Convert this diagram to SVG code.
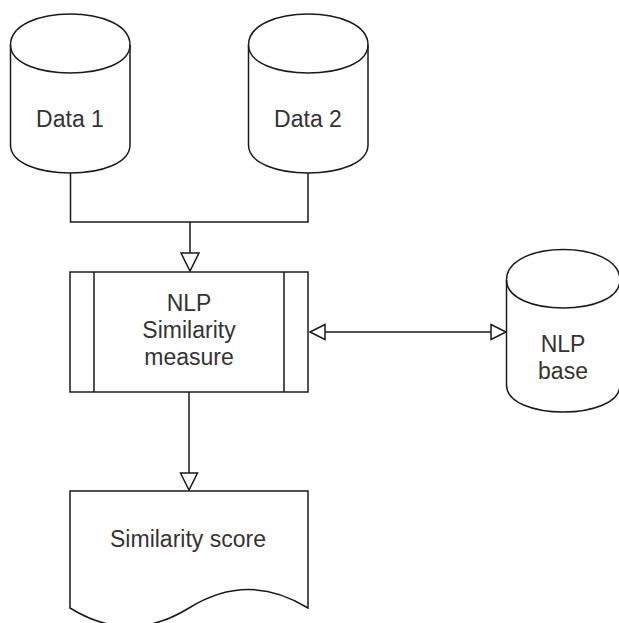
<svg xmlns="http://www.w3.org/2000/svg" width="619" height="623" viewBox="0 0 619 623">
<style>
.sh{fill:#fff;stroke:#1a1a1a;stroke-width:1.5}
.ln{fill:none;stroke:#1a1a1a;stroke-width:1.5}
.ah{fill:#fff;stroke:#1a1a1a;stroke-width:1.5;stroke-linejoin:miter}
.t{font-family:"Liberation Sans",Arial,Helvetica,sans-serif;font-size:23px;fill:#333;text-anchor:middle}
</style>
<rect width="619" height="623" fill="#fff"/>
<g id="connectors">
<path class="ln" d="M70.5 173 V222 H308 V173 M190 222 V253"/>
<polygon class="ah" points="181,253 199,253 190,271"/>
<path class="ln" d="M325 332 H491"/>
<polygon class="ah" points="310,332 325,324.5 325,339.5"/>
<polygon class="ah" points="506,332 491,324.5 491,339.5"/>
<path class="ln" d="M189 392 V473"/>
<polygon class="ah" points="180.5,473 197.5,473 189,490"/>
</g>
<g id="data1">
<path class="sh" d="M10.5 45 C10.5 3.7 130 3.7 130 45 V145 C130 182.3 10.5 182.3 10.5 145 Z"/>
<path class="ln" d="M10.5 45 C10.5 82.3 130 82.3 130 45"/>
<text class="t" x="70" y="127">Data 1</text>
</g>
<g id="data2">
<path class="sh" d="M248.5 45 C248.5 3.7 368 3.7 368 45 V145 C368 182.3 248.5 182.3 248.5 145 Z"/>
<path class="ln" d="M248.5 45 C248.5 82.3 368 82.3 368 45"/>
<text class="t" x="308" y="127">Data 2</text>
</g>
<g id="nlp-similarity">
<rect class="sh" x="70" y="272" width="238" height="120"/>
<path class="ln" d="M94 272 V392 M284 272 V392"/>
<text class="t" x="189" y="311">NLP</text>
<text class="t" x="189" y="338">Similarity</text>
<text class="t" x="189" y="365">measure</text>
</g>
<g id="nlp-base">
<path class="sh" d="M506.5 280 C506.5 239.3 620 239.3 620 280 V385 C620 421 506.5 421 506.5 385 Z"/>
<path class="ln" d="M506.5 280 C506.5 317.3 620 317.3 620 280"/>
<text class="t" x="563" y="352">NLP</text>
<text class="t" x="563" y="379">base</text>
</g>
<g id="similarity-score">
<path class="sh" d="M70 491 H308 V608 Q248.5 571 189 608 Q129.5 645 70 608 Z"/>
<text class="t" x="188" y="547">Similarity score</text>
</g>
</svg>
